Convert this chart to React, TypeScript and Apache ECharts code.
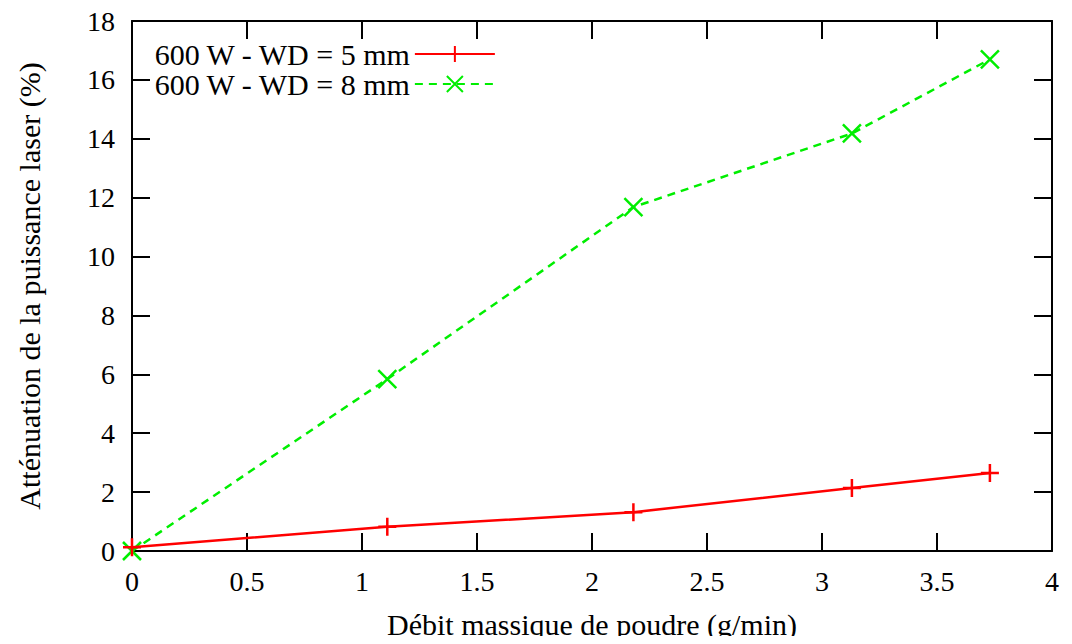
import React, { useEffect, useRef } from "react";
import * as echarts from "echarts";

const xValues5 = [0, 1.11, 2.18, 3.13, 3.73];
const yValues5 = [0.13, 0.82, 1.32, 2.14, 2.65];
const xValues8 = [0, 1.11, 2.18, 3.13, 3.73];
const yValues8 = [0, 5.84, 11.68, 14.18, 16.7];
const seriesNames = ["600 W - WD = 5 mm", "600 W - WD = 8 mm"];
const xTitle = "Débit massique de poudre (g/min)";
const yTitle = "Atténuation de la puissance laser (%)";

const FONT = "'Liberation Serif', 'Times New Roman', serif";
const PLUS = "path://M0,-10L0,10M-10,0L10,0";
const CROSS = "path://M-10,-10L10,10M-10,10L10,-10";

export default function App() {
  const ref = useRef<HTMLDivElement>(null);
  useEffect(() => {
    const chart = echarts.init(ref.current!, null, { renderer: "svg" });
    const txt = { fontFamily: FONT, fontSize: 30, color: "#000" };
    const tickTxt = { fontFamily: FONT, fontSize: 28, color: "#000" };
    const axisCommon = {
      min: 0,
      axisLine: { show: true, onZero: false, lineStyle: { color: "#000", width: 2 } },
      axisTick: { show: true, inside: true, length: 18, lineStyle: { color: "#000", width: 2 } },
      splitLine: { show: false },
    };
    chart.setOption({
      animation: false,
      backgroundColor: "#fff",
      textStyle: txt,
      grid: { left: 132, right: 20, top: 21, bottom: 91, containLabel: false },
      legend: {
        show: true,
        left: 153,
        top: 39,
        padding: 0,
        orient: "vertical",
        align: "right",
        itemWidth: 80,
        itemHeight: 20,
        itemGap: 0,
        textStyle: { ...txt, lineHeight: 30 },
        data: seriesNames,
      },
      xAxis: [
        {
          ...axisCommon,
          type: "value",
          max: 4,
          interval: 0.5,
          position: "bottom",
          name: xTitle,
          nameLocation: "middle",
          nameGap: 58,
          nameTextStyle: txt,
          axisLabel: { ...tickTxt, margin: 16 },
        },
        {
          ...axisCommon,
          type: "value",
          max: 4,
          interval: 0.5,
          position: "top",
          axisLabel: { show: false },
        },
      ],
      yAxis: [
        {
          ...axisCommon,
          type: "value",
          max: 18,
          interval: 2,
          position: "left",
          name: yTitle,
          nameLocation: "middle",
          nameGap: 88,
          nameTextStyle: txt,
          axisLabel: { ...tickTxt, margin: 17 },
        },
        {
          ...axisCommon,
          type: "value",
          max: 18,
          interval: 2,
          position: "right",
          axisLabel: { show: false },
        },
      ],
      series: [
        {
          name: seriesNames[0],
          type: "line",
          data: xValues5.map((x, i) => [x, yValues5[i]]),
          symbol: PLUS,
          symbolSize: 18,
          showAllSymbol: true,
          lineStyle: { color: "#ff0000", width: 2.5 },
          itemStyle: { color: "#ff0000", borderColor: "#ff0000", borderWidth: 2.5 },
          z: 3,
        },
        {
          name: seriesNames[1],
          type: "line",
          data: xValues8.map((x, i) => [x, yValues8[i]]),
          symbol: CROSS,
          symbolSize: 18,
          showAllSymbol: true,
          lineStyle: { color: "#00ee00", width: 2.5, type: [8, 6] },
          itemStyle: { color: "#00ee00", borderColor: "#00ee00", borderWidth: 2.5 },
          z: 2,
        },
      ],
    });
    return () => chart.dispose();
  }, []);
  return <div ref={ref} style={{ width: 1072, height: 644, margin: -8 }} />;
}
